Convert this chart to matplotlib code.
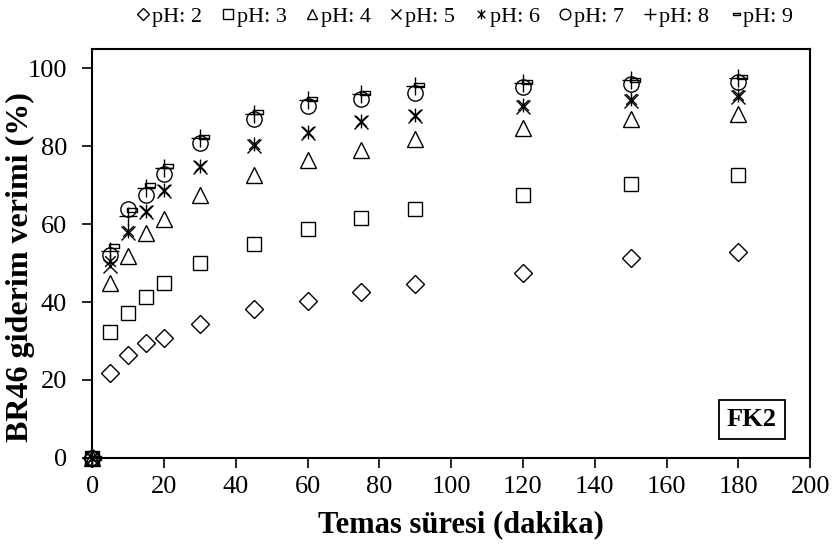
import matplotlib
matplotlib.use("Agg")
import matplotlib.pyplot as plt
from matplotlib.path import Path

plt.rcParams['font.family'] = ['Liberation Serif', 'DejaVu Serif']

# Temas süresi (dakika)
sure = [0, 5, 10, 15, 20, 30, 45, 60, 75, 90, 120, 150, 180]

# BR46 giderim verimi (%) her pH için
ph2 = [0, 21.7, 26.4, 29.5, 30.9, 34.4, 38.2, 40.3, 42.7, 44.7, 47.5, 51.3, 52.8]
ph3 = [0, 32.3, 37.1, 41.4, 45.0, 49.9, 55.0, 58.8, 61.6, 63.9, 67.6, 70.3, 72.7]
ph4 = [0, 44.9, 51.9, 57.7, 61.4, 67.5, 72.7, 76.5, 79.1, 81.8, 84.8, 86.9, 88.3]
ph5 = [0, 49.3, 57.8, 63.1, 68.4, 74.6, 80.1, 83.4, 86.1, 87.7, 90.1, 91.6, 92.7]
ph6 = [0, 50.5, 58.3, 63.5, 68.8, 74.9, 80.5, 83.7, 86.5, 88.1, 90.6, 92.1, 93.2]
ph7 = [0, 52.0, 63.8, 67.6, 72.9, 80.8, 86.9, 90.3, 92.0, 93.7, 95.3, 96.0, 96.6]
ph8 = [0, 53.2, 62.1, 69.4, 74.4, 82.1, 88.4, 91.8, 93.5, 95.4, 96.3, 97.1, 97.5]
ph9 = [0, 54.5, 63.6, 70.0, 75.0, 82.5, 88.9, 92.0, 93.7, 95.6, 96.4, 97.0, 97.7]

etiketler = ['pH: 2', 'pH: 3', 'pH: 4', 'pH: 5', 'pH: 6', 'pH: 7', 'pH: 8', 'pH: 9']

# yildiz isareti: X + dikey cizgi
yildiz = Path([(-1, -1), (1, 1), (-1, 1), (1, -1), (0, -1.3), (0, 1.3)],
              [Path.MOVETO, Path.LINETO, Path.MOVETO, Path.LINETO, Path.MOVETO, Path.LINETO])
# kisa cizgi isareti (saga kaymis dikdortgen)
cizgi = Path([(-0.1, -0.2), (1.0, -0.2), (1.0, 0.2), (-0.1, 0.2), (-0.1, -0.2)],
             [Path.MOVETO, Path.LINETO, Path.LINETO, Path.LINETO, Path.CLOSEPOLY])

seriler = [
    (ph2, 'D', 9),
    (ph3, 's', 10),
    (ph4, '^', 11),
    (ph5, 'x', 10),
    (ph6, yildiz, 10),
    (ph7, 'o', 11),
    (ph8, '+', 13),
    (ph9, cizgi, 13),
]

fig = plt.figure(figsize=(8.37, 5.49), dpi=100)
ax = fig.add_axes([0.110, 0.166, 0.858, 0.745])

hs = []
for (y, m, ms), lbl in zip(seriler, etiketler):
    h, = ax.plot(sure, y, linestyle='none', marker=m, markersize=ms,
                 markerfacecolor='none', markeredgecolor='black',
                 markeredgewidth=1.0, color='black', label=lbl, clip_on=False)
    hs.append(h)

ax.set_xlim(0, 200)
ax.set_ylim(0, 105)
ax.set_xticks(range(0, 201, 20))
ax.set_yticks(range(0, 101, 20))
ax.tick_params(direction='out', length=7, width=1.2, labelsize=19)
ax.tick_params(axis='x', pad=6)
ax.tick_params(axis='y', pad=11)
for s in ax.spines.values():
    s.set_linewidth(1.5)

ax.set_xlabel('Temas süresi (dakika)', fontsize=22, fontweight='bold')
ax.set_ylabel('BR46 giderim verimi (%)', fontsize=23, fontweight='bold')
ax.xaxis.set_label_coords(0.513, -0.127)
ax.yaxis.set_label_coords(-0.079, 0.466)

ax.text(0.919, 0.093, 'FK2', transform=ax.transAxes, fontsize=19, fontweight='bold',
        ha='center', va='center',
        bbox=dict(boxstyle='square,pad=0.3', facecolor='white', edgecolor='black', linewidth=1.3))

fig.legend(handles=hs, loc='upper center', bbox_to_anchor=(0.556, 1.025), ncol=8,
           frameon=False, fontsize=16, markerscale=0.7, handlelength=0.5,
           handletextpad=0.15, columnspacing=0.9)

fig.savefig('out.png', dpi=100)
